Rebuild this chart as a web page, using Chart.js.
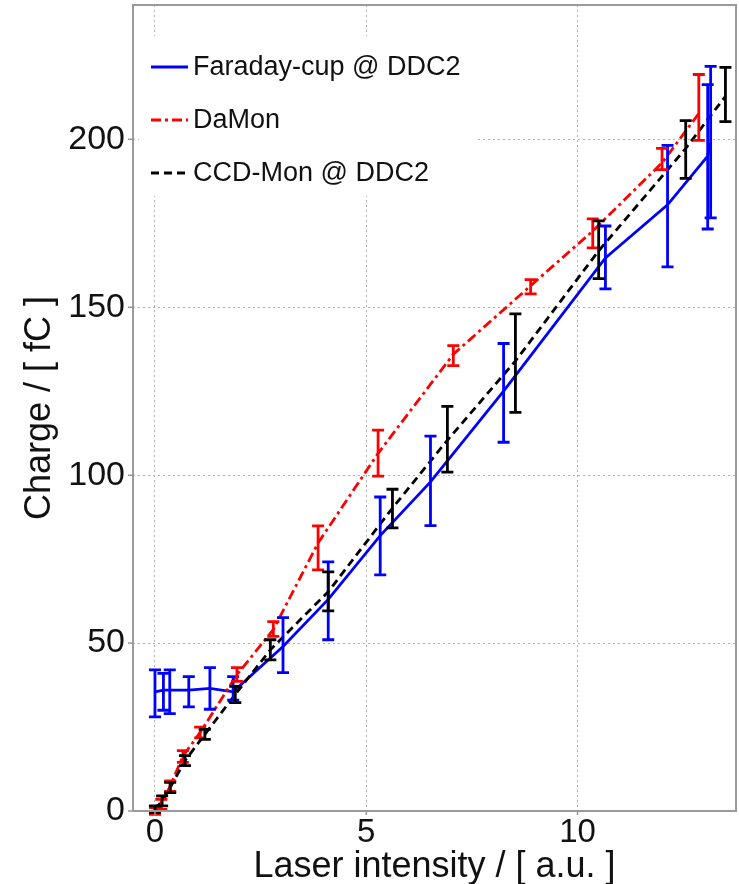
<!DOCTYPE html>
<html lang="en">
<head>
    <meta charset="UTF-8">
    <title>Charge vs laser intensity</title>
    <script src="https://cdn.jsdelivr.net/npm/chart.js"></script>
    <style>
        body { margin: 0; background: #fff; }
        .wrap { width: 739px; height: 884px; }
    </style>
</head>
<body>
    <div class="wrap"><canvas id="chargeChart"></canvas></div>
    <script>
        // Faraday-cup @ DDC2
        const faradayX = [0, 0.2, 0.35, 0.8, 1.3, 1.85, 3.03, 4.1, 5.33, 6.52, 8.25, 10.66, 12.13, 13.08, 13.15];
        const faradayY = [35.5, 36, 36, 36, 36.5, 35.5, 49, 63, 82, 98, 125, 164.7, 180.5, 195, 199];
        const faradayLow = [28, 30, 29, 31, 30.3, 33, 41.2, 51, 70.3, 85, 109.8, 155.5, 162, 173.3, 176.6];
        const faradayHigh = [42, 41, 42, 40, 42.7, 40, 57.6, 74.2, 93.5, 111.6, 139.2, 174.2, 198.2, 216.3, 221.7];

        // DaMon
        const damonX = [0, 0.15, 0.36, 0.66, 1.07, 1.94, 2.8, 3.86, 5.28, 7.06, 8.89, 10.36, 12.0, 12.87];
        const damonY = [0, 2, 7.4, 16.3, 23.4, 40.6, 54, 79.8, 106.5, 136, 156.4, 172.7, 193, 207.7];
        const damonLow = [-1, 0.5, 5.8, 14.5, 21.8, 38.6, 52, 71.8, 99.7, 132.6, 154, 167.7, 191, 199.7];
        const damonHigh = [1, 3.5, 9, 18, 25, 42.7, 56.4, 84.9, 113.4, 138.6, 158.2, 176.3, 197.3, 219.3];

        // CCD-Mon @ DDC2
        const ccdX = [0, 0.17, 0.36, 0.71, 1.18, 1.9, 2.73, 4.1, 5.62, 6.92, 8.53, 10.5, 12.56, 13.5];
        const ccdY = [0.5, 3, 7, 15, 22.8, 34.7, 48, 65.3, 90.2, 110.4, 134, 166.8, 197.3, 212.8];
        const ccdLow = [-0.5, 1.5, 5.5, 13.5, 21.3, 32.3, 45, 59.6, 84.3, 100.9, 118.7, 158.5, 188.4, 205.3];
        const ccdHigh = [1.5, 4.5, 8.5, 16.5, 24.3, 37.1, 51, 71.2, 95.8, 120.5, 148, 175.7, 205.6, 221.4];

        const xTicks = [0, 5, 10];
        const yTicks = [0, 50, 100, 150, 200];

        const toPoints = (xs, ys) => xs.map((x, i) => ({ x: x, y: ys[i] }));

        // vertical error bars with caps, placed through the chart scales
        const errorBars = {
            id: 'errorBars',
            afterDatasetsDraw(chart) {
                const ctx = chart.ctx;
                const xs = chart.scales.x, ys = chart.scales.y;
                chart.data.datasets.forEach(ds => {
                    ctx.save();
                    ctx.strokeStyle = ds.borderColor;
                    ctx.lineWidth = 2.8;
                    ds.data.forEach((p, i) => {
                        const px = xs.getPixelForValue(p.x);
                        const lo = ys.getPixelForValue(ds.errLow[i]);
                        const hi = ys.getPixelForValue(ds.errHigh[i]);
                        ctx.beginPath();
                        ctx.moveTo(px, lo); ctx.lineTo(px, hi);
                        ctx.moveTo(px - 6, lo); ctx.lineTo(px + 6, lo);
                        ctx.moveTo(px - 6, hi); ctx.lineTo(px + 6, hi);
                        ctx.stroke();
                    });
                    ctx.restore();
                });
            }
        };

        // box frame + legend inside the axes, like the original figure
        const frameAndLegend = {
            id: 'frameAndLegend',
            afterDraw(chart) {
                const ctx = chart.ctx;
                const a = chart.chartArea;
                ctx.save();
                ctx.fillStyle = '#fff';
                ctx.fillRect(a.left + 6, 36, 336, 160);
                chart.data.datasets.forEach((ds, i) => {
                    const y = 67 + i * 53;
                    ctx.strokeStyle = ds.borderColor;
                    ctx.lineWidth = 2.8;
                    ctx.setLineDash(ds.borderDash || []);
                    ctx.beginPath();
                    ctx.moveTo(151, y); ctx.lineTo(188, y);
                    ctx.stroke();
                    ctx.setLineDash([]);
                    ctx.fillStyle = '#111';
                    ctx.font = '27px "Liberation Sans", Arial, sans-serif';
                    ctx.textBaseline = 'middle';
                    ctx.fillText(ds.label, 193, y + 1);
                });
                ctx.strokeStyle = '#9a9a9a';
                ctx.lineWidth = 2;
                ctx.strokeRect(a.left, a.top, a.right - a.left, a.bottom - a.top);
                // short outward ticks on the left and bottom
                ctx.lineWidth = 1.5;
                ctx.beginPath();
                xTicks.forEach(v => {
                    const px = chart.scales.x.getPixelForValue(v);
                    ctx.moveTo(px, a.bottom); ctx.lineTo(px, a.bottom + 4);
                });
                yTicks.forEach(v => {
                    const py = chart.scales.y.getPixelForValue(v);
                    ctx.moveTo(a.left, py); ctx.lineTo(a.left - 5, py);
                });
                ctx.stroke();
                ctx.restore();
            }
        };

        const family = '"Liberation Sans", Arial, sans-serif';

        new Chart(document.getElementById('chargeChart'), {
            type: 'scatter',
            data: {
                datasets: [
                    {
                        label: 'Faraday-cup @ DDC2',
                        data: toPoints(faradayX, faradayY),
                        errLow: faradayLow, errHigh: faradayHigh,
                        borderColor: '#0000ff',
                        borderWidth: 2.8,
                        showLine: true, pointRadius: 0, order: 2
                    },
                    {
                        label: 'DaMon',
                        data: toPoints(damonX, damonY),
                        errLow: damonLow, errHigh: damonHigh,
                        borderColor: '#ff0000',
                        borderWidth: 2.8,
                        borderDash: [10, 4, 3, 4],
                        showLine: true, pointRadius: 0, order: 1
                    },
                    {
                        label: 'CCD-Mon @ DDC2',
                        data: toPoints(ccdX, ccdY),
                        errLow: ccdLow, errHigh: ccdHigh,
                        borderColor: '#000000',
                        borderWidth: 2.8,
                        borderDash: [8, 5],
                        showLine: true, pointRadius: 0, order: 0
                    }
                ]
            },
            options: {
                responsive: true,
                maintainAspectRatio: false,
                animation: false,
                events: [],
                layout: { padding: { top: 5, right: 3 } },
                plugins: { legend: { display: false }, tooltip: { enabled: false } },
                scales: {
                    x: {
                        type: 'linear',
                        min: -0.52, max: 13.75,
                        afterBuildTicks: s => { s.ticks = xTicks.map(v => ({ value: v })); },
                        afterFit: s => { s.height = 73; s.paddingRight = 0; s.paddingLeft = 0; },
                        grid: { color: '#b0b0b0', lineWidth: 1, drawTicks: false },
                        border: { display: false, dash: [2, 3] },
                        ticks: { color: '#111', font: { family: family, size: 33 }, padding: 2, maxRotation: 0 },
                        title: { display: true, text: 'Laser intensity / [ a.u. ]', color: '#111',
                                 font: { family: family, size: 36 }, padding: { top: 0, bottom: -5 } }
                    },
                    y: {
                        min: 0, max: 240,
                        afterBuildTicks: s => { s.ticks = yTicks.map(v => ({ value: v })); },
                        afterFit: s => { s.width = 133; s.paddingTop = 0; s.paddingBottom = 0; },
                        grid: { color: '#b0b0b0', lineWidth: 1, drawTicks: false },
                        border: { display: false, dash: [2, 3] },
                        ticks: { color: '#111', font: { family: family, size: 34 }, padding: 8 },
                        title: { display: true, text: 'Charge / [ fC ]', color: '#111',
                                 font: { family: family, size: 36 }, padding: { top: 18, bottom: 0 } }
                    }
                }
            },
            plugins: [errorBars, frameAndLegend]
        });
    </script>
</body>
</html>
